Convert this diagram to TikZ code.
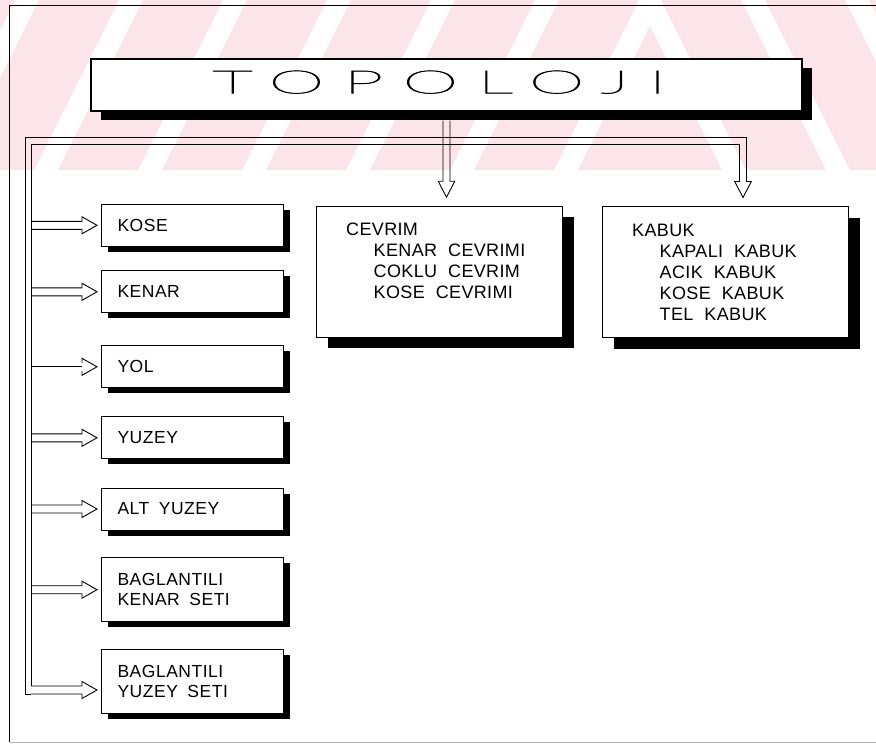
\documentclass[tikz,border=0pt]{standalone}
\usepackage{graphicx}
\usepackage{fontspec}
\setmainfont{Liberation Sans}
\newfontfamily\titlefont{Lato Hairline}[LetterSpace=28,FakeBold=2]
\newfontfamily\leaffont{Liberation Sans}[LetterSpace=3]
\newfontfamily\listfont{Liberation Sans}[LetterSpace=2]
\usetikzlibrary{calc,shadows}
\definecolor{wmark}{RGB}{252,229,234}

\begin{document}
\begin{tikzpicture}[x=1pt,y=-1pt,
  pipe/.style={line width=0.9pt},
  rpipe/.style={pipe, to path={($(\tikztostart)+(0,-4)$) -- ($(\tikztotarget)+(-19,-4)$) -- ($(\tikztotarget)+(-19,-8.5)$) -- ($(\tikztotarget)+(-4,0)$) -- ($(\tikztotarget)+(-19,8.5)$) -- ($(\tikztotarget)+(-19,4)$) -- ($(\tikztostart)+(0,4)$)}},
  dpipe/.style={pipe, to path={($(\tikztostart)+(-3.5,0)$) -- ($(\tikztotarget)+(-3.5,-24.5)$) -- ($(\tikztotarget)+(-8.3,-24.5)$) -- ($(\tikztotarget)+(0,-8.5)$) -- ($(\tikztotarget)+(8.3,-24.5)$) -- ($(\tikztotarget)+(3.5,-24.5)$) -- ($(\tikztostart)+(3.5,0)$)}},
  titlebox/.style={draw, line width=1.2pt, fill=white, minimum width=711pt, minimum height=52pt, inner sep=0pt, text depth=6pt, font=\titlefont\fontsize{32}{32}\selectfont, drop shadow={shadow xshift=10pt, shadow yshift=-9pt, fill=black, opacity=1}},
  leafbox/.style={draw, line width=1pt, fill=white, anchor=west, text width=150pt, inner xsep=16pt, inner ysep=0pt, minimum height=42pt, align=left, font=\leaffont\fontsize{17.5}{20}\selectfont, execute at begin node={\spaceskip=9.5pt\relax}, drop shadow={shadow xshift=6pt, shadow yshift=-5.5pt, fill=black, opacity=1}},
  listbox/.style={draw, line width=1pt, fill=white, anchor=north west, text width=186pt, inner xsep=30pt, inner ysep=0pt, minimum height=131pt, align=left, font=\listfont\fontsize{18}{21}\selectfont, execute at begin node={\spaceskip=11pt\relax}, drop shadow={shadow xshift=12pt, shadow yshift=-11pt, fill=black, opacity=1}}]
\useasboundingbox (0,0) rectangle (876,744);

% watermark stripes
\begin{scope}
\clip (0,0) rectangle (650,170);
\fill[wmark] (-150,170) -- ++(80,0) -- ++(85,-170) -- ++(-80,0) -- cycle
  (-46,170) -- ++(80,0) -- ++(85,-170) -- ++(-80,0) -- cycle
  (58,170) -- ++(80,0) -- ++(85,-170) -- ++(-80,0) -- cycle
  (162,170) -- ++(80,0) -- ++(85,-170) -- ++(-80,0) -- cycle
  (266,170) -- ++(80,0) -- ++(85,-170) -- ++(-80,0) -- cycle
  (370,170) -- ++(80,0) -- ++(85,-170) -- ++(-80,0) -- cycle
  (474,170) -- ++(80,0) -- ++(85,-170) -- ++(-80,0) -- cycle
  (578,170) -- ++(80,0) -- ++(85,-170) -- ++(-80,0) -- cycle;
\end{scope}
\begin{scope}
\clip (650,0) rectangle (876,170);
\fill[wmark] (1034,170) -- ++(-80,0) -- ++(-85,-170) -- ++(80,0) -- cycle
  (930,170) -- ++(-80,0) -- ++(-85,-170) -- ++(80,0) -- cycle
  (826,170) -- ++(-80,0) -- ++(-85,-170) -- ++(80,0) -- cycle
  (722,170) -- ++(-80,0) -- ++(-85,-170) -- ++(80,0) -- cycle;
\end{scope}

% frame
\draw[line width=1pt] (9.5,742) -- (9.5,5) -- (876,5);
\draw[black!30, line width=0.6pt] (9.5,742) -- (876,742);

% boxes
\node[titlebox] (topo) at (446.5,85) {\hspace*{-34pt}\scalebox{2.2}[1]{TOPOLOJI\kern-8.96pt}};

\node[leafbox] (kose) at (101,225.3) {KOSE};
\node[leafbox] (kenar) at (101,291.8) {KENAR};
\node[leafbox] (yol) at (101,366.8) {YOL};
\node[leafbox] (yuzey) at (101,437.8) {YUZEY};
\node[leafbox] (altyuzey) at (101,509) {ALT YUZEY};
\node[leafbox, minimum height=64pt] (bks) at (101,589.7) {BAGLANTILI\\KENAR SETI};
\node[leafbox, minimum height=64pt] (bys) at (101,681) {BAGLANTILI\\YUZEY SETI};

\node[listbox] (cevrim) at (315.7,205.7) {CEVRIM\\\hspace*{27.5pt}KENAR CEVRIMI\\\hspace*{27.5pt}COKLU CEVRIM\\\hspace*{27.5pt}KOSE CEVRIMI\\\mbox{}};
\node[listbox] (kabuk) at (601.7,206) {KABUK\\\hspace*{27.5pt}KAPALI KABUK\\\hspace*{27.5pt}ACIK KABUK\\\hspace*{27.5pt}KOSE KABUK\\\hspace*{27.5pt}TEL KABUK};

% bus
\coordinate (busin) at (31,144);
\coordinate (busout) at (25,137);
\coordinate (busend) at (31,690);
\coordinate (rtop) at (743,144);
\coordinate (bysin) at ([yshift=-9pt]bys.west);
\coordinate (topobot) at ([yshift=-9pt]topo.south);
\coordinate (cvtop) at (topo.south |- cevrim.north);
\coordinate (kbtop) at (rtop |- kabuk.north);

\draw[pipe] ($(busend)+(0,-4)$) -- (busin) -- ($(rtop)+(-3.5,0)$);
\draw[pipe] ($(busend)+(0,4)$) -- ($(busend)+(-6,4)$) -- (busout) -- ($(rtop)+(3.5,-7)$) -- ($(rtop)+(3.5,0)$);

\draw[dpipe] (topobot) to (cvtop);
\draw[dpipe] (rtop) to (kbtop);

\draw[rpipe] (busin |- kose.west) to (kose.west);
\draw[rpipe] (busin |- kenar.west) to (kenar.west);
\draw[pipe] (busin |- yol.west) -- ($(yol.west)+(-19,0)$);
\draw[pipe] ($(yol.west)+(-19,-4)$) -- ($(yol.west)+(-19,-8.5)$) -- ($(yol.west)+(-4,0)$) -- ($(yol.west)+(-19,8.5)$) -- ($(yol.west)+(-19,4)$);
\draw[rpipe] (busin |- yuzey.west) to (yuzey.west);
\draw[rpipe] (busin |- altyuzey.west) to (altyuzey.west);
\draw[rpipe] (busin |- bks.west) to (bks.west);
\draw[rpipe] (busend) to (bysin);
\end{tikzpicture}
\end{document}
